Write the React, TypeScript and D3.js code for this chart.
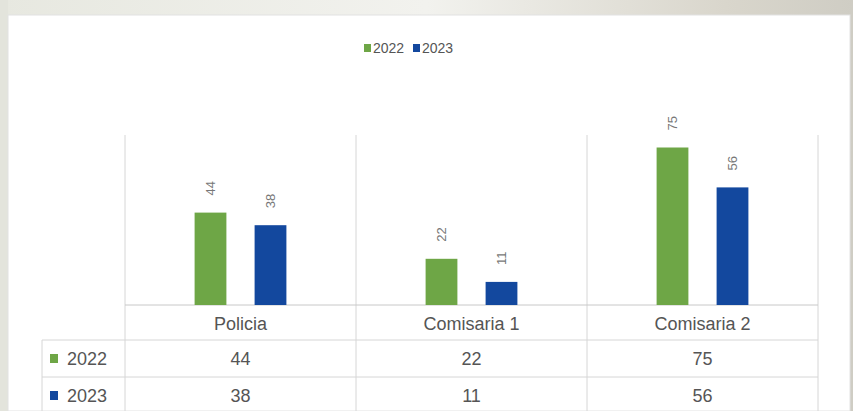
import React from "react";
import * as d3 from "d3";

const categories = ["Policia", "Comisaria 1", "Comisaria 2"];
const seriesNames = ["2022", "2023"];
const values2022 = [44, 22, 75];
const values2023 = [38, 11, 56];
const seriesValues = [values2022, values2023];
const seriesColors = ["#6ea646", "#13489e"];

const W = 853;
const H = 411;
const FONT = "'Liberation Sans', Arial, sans-serif";

export default function App() {
  const plotLeft = 125;
  const plotRight = 818;
  const baseY = 305;
  const gridTop = 135;
  const x0 = d3.scaleBand<string>().domain(categories).range([plotLeft, plotRight]).padding(0);
  const bw = x0.bandwidth();
  const x1 = d3
    .scaleBand<string>()
    .domain(seriesNames)
    .range([0, bw])
    .paddingInner(0.47)
    .paddingOuter(1.16);
  const y = d3.scaleLinear().domain([0, 80]).range([baseY, 137]);

  const row1Top = 340;
  const row2Top = 377;
  const tableLeft = 42;
  const rowTops = [row1Top, row2Top];
  const rowH = 37;

  const gridColor = "#d6d6d6";
  const textColor = "#555";

  return (
    <svg
      width={W}
      height={H}
      style={{ position: "fixed", left: 0, top: 0, display: "block" }}
    >
      <defs>
        <linearGradient id="bgTop" x1="0" x2="1" y1="0" y2="0">
          <stop offset="0" stopColor="#e7e8e0" />
          <stop offset="0.5" stopColor="#f2f2ee" />
          <stop offset="0.85" stopColor="#d9d6cc" />
          <stop offset="1" stopColor="#cfcdc4" />
        </linearGradient>
      </defs>
      <rect x={0} y={0} width={W} height={H} fill="url(#bgTop)" />
      <rect x={0} y={0} width={8} height={H} fill="#e3e4dc" />
      <rect x={8} y={15} width={842} height={H - 15} fill="#ffffff" stroke="#e2e2e2" />

      {/* legend */}
      <g fontFamily={FONT} fontSize={14} fill={textColor}>
        {seriesNames.map((s, i) => {
          const lx = 364 + i * 49;
          return (
            <g key={s}>
              <rect x={lx} y={44} width={7} height={8} fill={seriesColors[i]} />
              <text x={lx + 9} y={53}>{s}</text>
            </g>
          );
        })}
      </g>

      {/* vertical grid / table separators */}
      {[...categories.map((c) => x0(c)!), plotRight].map((gx, i) => (
        <line key={i} x1={gx} x2={gx} y1={gridTop} y2={H} stroke={gridColor} strokeWidth={1} />
      ))}
      {/* table horizontal lines */}
      <line x1={plotLeft} x2={plotRight} y1={baseY} y2={baseY} stroke="#c8c8c8" />
      {rowTops.map((ry) => (
        <line key={ry} x1={tableLeft} x2={plotRight} y1={ry} y2={ry} stroke={gridColor} />
      ))}
      <line x1={tableLeft} x2={tableLeft} y1={row1Top} y2={H} stroke={gridColor} />

      {/* bars */}
      {categories.map((c, ci) => (
        <g key={c} transform={`translate(${x0(c)},0)`}>
          {seriesNames.map((s, si) => {
            const v = seriesValues[si][ci];
            const bx = x1(s)!;
            const by = y(v);
            return (
              <g key={s}>
                <rect x={bx} y={by} width={x1.bandwidth()} height={baseY - by} fill={seriesColors[si]} />
                <text
                  transform={`translate(${bx + x1.bandwidth() / 2 + 4},${by - 17}) rotate(-90)`}
                  fontFamily={FONT}
                  fontSize={13}
                  fill="#777"
                  textAnchor="start"
                >
                  {v}
                </text>
              </g>
            );
          })}
        </g>
      ))}

      {/* category header row */}
      <g fontFamily={FONT} fontSize={18} fill={textColor} textAnchor="middle">
        {categories.map((c) => (
          <text key={c} x={x0(c)! + bw / 2} y={330}>
            {c}
          </text>
        ))}
      </g>

      {/* data rows */}
      {seriesNames.map((s, si) => (
        <g key={s} fontFamily={FONT} fontSize={18} fill={textColor}>
          <rect x={50} y={rowTops[si] + 14} width={8} height={9} fill={seriesColors[si]} />
          <text x={67} y={rowTops[si] + 25}>{s}</text>
          {categories.map((c, ci) => (
            <text key={c} x={x0(c)! + bw / 2} y={rowTops[si] + 25} textAnchor="middle">
              {seriesValues[si][ci]}
            </text>
          ))}
        </g>
      ))}
    </svg>
  );
}
